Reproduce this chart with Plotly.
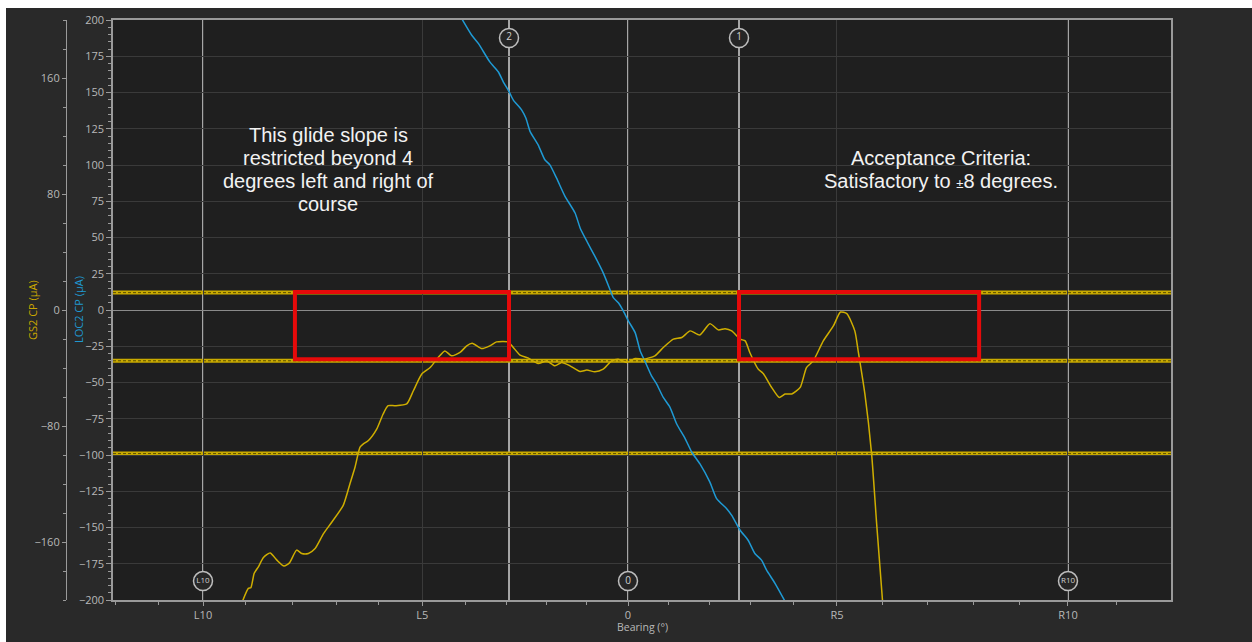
import plotly.graph_objects as go

# ---------------- data ----------------
# LOC2 course-deviation current (blue), bearing in degrees
loc_bearing = [-3.96, -3.72, -3.56, -3.29, -3.09, -2.97, -2.83, -2.73, -2.53, -2.43,
               -2.33, -2.14, -1.98, -1.86, -1.70, -1.50, -1.26, -1.14, -0.98, -0.79,
               -0.59, -0.43, -0.35, -0.23, -0.11, 0.01, 0.17, 0.29, 0.40, 0.56,
               0.68, 0.84, 1.00, 1.16, 1.36, 1.52, 1.71, 1.95, 2.11, 2.35,
               2.47, 2.67, 2.86, 3.02, 3.18, 3.30, 3.50, 3.74]
loc_cp = [201.0, 189.5, 183.7, 171.1, 164.3, 157.4, 150.5, 144.8, 137.9, 132.2,
          123.0, 113.9, 103.6, 100.1, 90.9, 78.4, 66.9, 56.6, 47.4, 37.1,
          25.6, 14.2, 8.5, 5.0, -0.7, -7.6, -15.6, -28.2, -35.1, -45.4,
          -50.9, -60.3, -67.1, -78.6, -88.7, -98.1, -106.0, -118.7, -130.1, -137.0,
          -141.6, -151.9, -158.8, -167.9, -172.5, -179.4, -188.5, -201.0]

# GS2 course-deviation current (yellow)
gs_bearing = [-9.18, -9.04, -8.98, -8.90, -8.80, -8.68, -8.52, -8.36, -8.19, -8.06,
              -7.89, -7.77, -7.61, -7.45, -7.25, -7.05, -6.78, -6.62, -6.50, -6.38,
              -6.30, -6.18, -5.98, -5.83, -5.71, -5.55, -5.27, -5.11, -4.91, -4.71,
              -4.52, -4.36, -4.20, -4.00, -3.84, -3.71, -3.48, -3.29, -3.13, -2.85,
              -2.73, -2.57, -2.37, -2.14, -1.94, -1.74, -1.58, -1.38, -1.14, -0.98,
              -0.79, -0.59, -0.39, -0.23, -0.03, 0.17, 0.36, 0.64, 0.84, 1.08,
              1.28, 1.48, 1.71, 1.95, 2.15, 2.31, 2.47, 2.67, 2.79, 2.90,
              3.10, 3.22, 3.42, 3.60, 3.74, 3.90, 4.10, 4.25, 4.41, 4.65,
              4.89, 5.06, 5.21, 5.40, 5.48, 5.64, 5.80, 5.92, 6.06]
gs_cp = [-201.0, -192.0, -191.5, -181.6, -177.1, -170.7, -167.5, -172.5, -176.6, -174.4,
         -165.6, -167.9, -167.9, -164.5, -154.2, -146.2, -134.7, -119.8, -108.4, -94.6,
         -92.3, -90.0, -82.0, -71.7, -66.0, -66.0, -64.8, -55.7, -44.2, -39.7,
         -32.8, -28.2, -31.6, -29.3, -24.7, -22.9, -26.6, -24.7, -22.0, -22.0,
         -25.9, -31.1, -33.2, -36.9, -35.1, -38.5, -36.2, -38.5, -42.4, -41.4,
         -42.6, -40.8, -35.1, -33.9, -36.2, -33.5, -33.9, -31.6, -25.9, -20.1,
         -19.0, -14.4, -17.2, -9.4, -13.7, -12.9, -14.4, -20.1, -21.3, -29.3,
         -40.8, -43.8, -53.4, -60.3, -57.9, -57.9, -53.4, -39.7, -35.1, -21.3,
         -11.0, -1.4, -2.5, -14.4, -28.2, -57.9, -99.2, -147.3, -200.5]

# GS limit lines (µA, GS axis)
gs_limits = [12, -35, -99]

# Bearing axis tick labels and their positions
x_tick_vals = [-10.119, -4.90, 0.0, 4.976, 10.476]
x_tick_text = ["L10", "L5", "0", "R5", "R10"]
x_minor_vals = [-12.21, -11.17, -9.10, -8.00, -6.95, -5.93, -3.88, -2.90, -1.93, -0.98,
                0.97, 1.95, 2.92, 3.95, 6.05, 7.12, 8.23, 9.33, 11.64]

# reference bearing lines with circled labels
ref_lines_x = [-10.119, -2.833, 0.0, 2.643, 10.476]
ref_top_labels = [("2", -2.833), ("1", 2.643)]
ref_bottom_labels = [("L10", -10.119), ("0", 0.0), ("R10", 10.476)]

# highlighted (red) regions: bearing from/to, current from/to
red_boxes = [(-7.93, -2.833), (2.643, 8.36)]
red_box_cp = (-34.0, 12.5)

left_note = ["This glide slope is", "restricted beyond 4",
             "degrees left and right of", "course"]
left_note_y = [121.0, 104.5, 88.7, 72.9]
right_note = ["Acceptance Criteria:",
              "Satisfactory to <span style='font-size:13px'>±</span>8 degrees."]
right_note_y = [104.7, 88.7]

# ---------------- layout geometry ----------------
W, H = 1252, 642
GS_AXIS_PX = 66      # outer GS axis line
PLOT_L, PLOT_R, PLOT_T, PLOT_B = 113, 1171, 18, 600
pw = PLOT_R - GS_AXIS_PX
ph = PLOT_B - PLOT_T


def px_x(px):
    return (px - GS_AXIS_PX) / pw


def px_y(py):
    return (PLOT_B - py) / ph


XR = [(PLOT_L - 628) / 42.0, (PLOT_R - 628) / 42.0]
YR = [-200, 200]

BG = "#292929"
PLOT_BG = "#1f1f1f"
GRID = "#3a3a3a"
AXIS = "#9a9a9a"
TICKTXT = "#b8b8b8"
YEL = "#cfae00"
BLUE = "#1f9ad4"

fig = go.Figure()

# GS curve (on GS axis)
fig.add_trace(go.Scatter(x=gs_bearing, y=gs_cp, mode="lines", yaxis="y2",
                         line=dict(color=YEL, width=1.5, shape="spline", smoothing=0.6),
                         hoverinfo="skip", showlegend=False))
# LOC curve
fig.add_trace(go.Scatter(x=loc_bearing, y=loc_cp, mode="lines", yaxis="y",
                         line=dict(color=BLUE, width=1.5, shape="spline", smoothing=0.6),
                         hoverinfo="skip", showlegend=False))

shapes = []
# reference vertical lines
for xv in ref_lines_x:
    shapes.append(dict(type="line", xref="x", yref="paper", x0=xv, x1=xv, y0=0, y1=1,
                       line=dict(color="#a6a6a6", width=2), layer="between"))
# GS limit lines
for lv in gs_limits:
    shapes.append(dict(type="line", xref="paper", yref="y2", x0=px_x(PLOT_L), x1=1,
                       y0=lv, y1=lv, line=dict(color="#c9aa00", width=4), layer="between"))
    shapes.append(dict(type="line", xref="paper", yref="y2", x0=px_x(PLOT_L), x1=1,
                       y0=lv, y1=lv, line=dict(color="#5c5000", width=1, dash="3px,2px"),
                       layer="between"))
# red boxes
for (x0, x1) in red_boxes:
    shapes.append(dict(type="rect", xref="x", yref="y", x0=x0, x1=x1,
                       y0=red_box_cp[0], y1=red_box_cp[1],
                       line=dict(color="#e60a0a", width=4), layer="above"))
# white screenshot border strips (top / left)
shapes.append(dict(type="rect", xref="paper", yref="paper", x0=px_x(-2), x1=px_x(6),
                   y0=px_y(H + 2), y1=px_y(-2), fillcolor="#ffffff", line=dict(width=0)))
shapes.append(dict(type="rect", xref="paper", yref="paper", x0=px_x(-2), x1=px_x(W + 2),
                   y0=px_y(6), y1=px_y(-2), fillcolor="#ffffff", line=dict(width=0)))

# circled labels on the reference lines
top_y = (309 - 36) / 1.455
bot_y = (309 - 581) / 1.455
for lab_set, yv in ((ref_top_labels, top_y), (ref_bottom_labels, bot_y)):
    fig.add_trace(go.Scatter(
        x=[p for _, p in lab_set], y=[yv] * len(lab_set), mode="markers+text",
        text=[t for t, _ in lab_set], textposition="middle center",
        textfont=dict(family="Open Sans", size=[10 if len(t) == 1 else 8 for t, _ in lab_set],
                      color="#d0d0d0"),
        marker=dict(size=19, color="#262626", line=dict(color="#bdbdbd", width=1.5)),
        hoverinfo="skip", showlegend=False, cliponaxis=False))

annotations = []
for txt, yv in zip(left_note, left_note_y):
    annotations.append(dict(x=(328 - 628) / 42.0, y=yv, xref="x", yref="y", text=txt,
                            showarrow=False, xanchor="center", yanchor="middle",
                            font=dict(family="Liberation Sans", size=20, color="#f2f2f2")))
for txt, yv in zip(right_note, right_note_y):
    annotations.append(dict(x=(941 - 628) / 42.0, y=yv, xref="x", yref="y", text=txt,
                            showarrow=False, xanchor="center", yanchor="middle",
                            font=dict(family="Liberation Sans", size=20, color="#f2f2f2")))
# axis titles
annotations.append(dict(x=px_x(32), y=px_y(309), xref="paper", yref="paper",
                        text="GS2 CP (µA)", textangle=-90, showarrow=False,
                        xanchor="center", yanchor="middle",
                        font=dict(family="Open Sans", size=11, color="#c9a600")))
annotations.append(dict(x=px_x(78), y=px_y(309), xref="paper", yref="paper",
                        text="LOC2 CP (µA)", textangle=-90, showarrow=False,
                        xanchor="center", yanchor="middle",
                        font=dict(family="Open Sans", size=11, color="#1f98d0")))
annotations.append(dict(x=px_x(642), y=px_y(627.5), xref="paper", yref="paper",
                        text="Bearing (°)", showarrow=False,
                        xanchor="center", yanchor="middle",
                        font=dict(family="Open Sans", size=10.5, color=TICKTXT)))

fig.update_layout(
    width=W, height=H,
    margin=dict(l=GS_AXIS_PX, r=W - PLOT_R, t=PLOT_T, b=H - PLOT_B, pad=0),
    paper_bgcolor=BG, plot_bgcolor=PLOT_BG,
    font=dict(family="Open Sans", size=11, color=TICKTXT),
    xaxis=dict(domain=[px_x(PLOT_L), 1], range=XR, tickmode="array",
               tickvals=x_tick_vals, ticktext=x_tick_text, ticks="outside", ticklen=4,
               tickcolor=AXIS, showgrid=True, gridcolor=GRID, gridwidth=1,
               showline=True, linecolor=AXIS, linewidth=1.5, mirror=True,
               zeroline=False, tickfont=dict(size=11, color=TICKTXT),
               minor=dict(tickmode="array", tickvals=x_minor_vals, ticks="outside",
                          ticklen=3, tickcolor=AXIS, showgrid=False)),
    yaxis=dict(range=YR, tickmode="array", tickvals=list(range(-200, 201, 25)),
               ticks="outside", ticklen=5, tickcolor=AXIS, showgrid=True, gridcolor=GRID,
               gridwidth=1, zeroline=True, zerolinecolor="#8a8a8a", zerolinewidth=1,
               showline=True, linecolor=AXIS, linewidth=1.5, mirror=True,
               tickfont=dict(size=11, color=TICKTXT),
               minor=dict(dtick=5, tick0=0, ticks="outside", ticklen=3, tickcolor=AXIS,
                          showgrid=False)),
    yaxis2=dict(range=YR, overlaying="y", anchor="free", position=0, side="left",
                tickmode="array", tickvals=[-160, -80, 0, 80, 160], ticks="outside",
                ticklen=4, tickcolor=AXIS, showgrid=False, zeroline=False,
                showline=True, linecolor=AXIS, linewidth=1.2,
                tickfont=dict(size=11, color=TICKTXT),
                minor=dict(dtick=20, tick0=0, ticks="outside", ticklen=3, tickcolor=AXIS,
                           showgrid=False)),
    shapes=shapes, annotations=annotations, showlegend=False,
)

fig.write_html("out.html")
